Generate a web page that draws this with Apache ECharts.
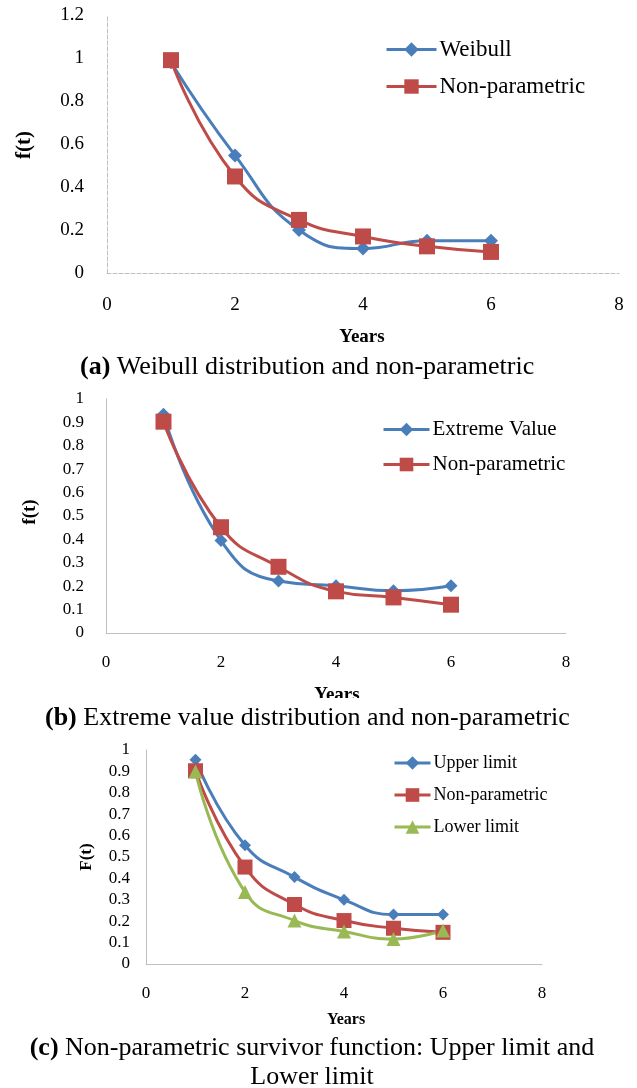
<!DOCTYPE html>
<html><head><meta charset="utf-8">
<script src="https://cdn.jsdelivr.net/npm/echarts@6/dist/echarts.min.js"></script>
<style>html,body{margin:0;padding:0;background:#fff}#c{width:637px;height:1088px}</style>
</head><body><div id="c"></div>
<script>
const years = [1, 2, 3, 4, 5, 6];
const weibullA = [0.98, 0.547, 0.2, 0.114, 0.15, 0.15];
const nonParA = [0.99, 0.449, 0.247, 0.17, 0.124, 0.098];
const extremeB = [0.935, 0.395, 0.222, 0.202, 0.181, 0.202];
const nonParB = [0.903, 0.452, 0.283, 0.178, 0.152, 0.121];
const upperC = [0.955, 0.555, 0.406, 0.3, 0.231, 0.231];
const nonParC = [0.903, 0.453, 0.278, 0.203, 0.167, 0.148];
const lowerC = [0.9, 0.336, 0.203, 0.152, 0.117, 0.156];
const xTicks = [0, 8, 2];
const yTicksA = [0, 1.2, 0.2];
const yTicksBC = [0, 1, 0.1];

const BLUE = '#4A7EBB', RED = '#BE4B48', GREEN = '#98B954';
const FONT = '"Liberation Serif","Times New Roman",serif';
const pts = v => years.map((x, i) => [x, v[i]]);

function xAx(idx, fs, margin, dashed) {
  return {gridIndex: idx, type: 'value', min: xTicks[0], max: xTicks[1], interval: xTicks[2],
    axisLine: {show: true, lineStyle: {color: '#BFBFBF', width: 1, type: dashed ? 'dashed' : 'solid'}},
    axisTick: {show: false}, splitLine: {show: false},
    axisLabel: {color: '#000', fontFamily: FONT, fontSize: fs, margin: margin}};
}
function yAx(idx, t, fs, margin, dashed) {
  return {gridIndex: idx, type: 'value', min: t[0], max: t[1], interval: t[2],
    axisLine: {show: true, lineStyle: {color: '#BFBFBF', width: 1, type: dashed ? 'dashed' : 'solid'}},
    axisTick: {show: false}, splitLine: {show: false},
    axisLabel: {color: '#000', fontFamily: FONT, fontSize: fs, margin: margin}};
}
function ser(name, idx, data, color, symbol, size) {
  return {name: name, type: 'line', xAxisIndex: idx, yAxisIndex: idx, data: pts(data),
    smooth: 0.5, symbol: symbol, symbolSize: size, showSymbol: true,
    lineStyle: {color: color, width: 3}, itemStyle: {color: color}, z: 3};
}
function leg(names, left, top, gap, w, h, fs) {
  return {data: names, orient: 'vertical', left: left, top: top, itemGap: gap, itemWidth: w, itemHeight: h,
    padding: 0, lineStyle: {width: 3},
    textStyle: {fontFamily: FONT, fontSize: fs, color: '#000', padding: [0, 0, 0, -2]}, selectedMode: false};
}
function txt(x, y, s, fs, bold, rot, align) {
  return {type: 'text', x: x, y: y, rotation: rot || 0,
    style: {text: s, fontFamily: FONT, fontSize: fs, fontWeight: bold ? 'bold' : 'normal', fill: '#000',
      align: align || 'center', verticalAlign: 'middle'}};
}
function cap(x, y, lbl, s, fs, align) {
  return {type: 'text', x: x, y: y, z: 20,
    style: {text: '{b|' + lbl + '} ' + s, fontFamily: FONT, fontSize: fs, fill: '#000', align: align, verticalAlign: 'middle',
      rich: {b: {fontFamily: FONT, fontSize: fs, fontWeight: 'bold'}}}};
}

const chart = echarts.init(document.getElementById('c'));
chart.setOption({
  animation: false,
  backgroundColor: '#fff',
  grid: [
    {left: 107, top: 15, width: 512, height: 258},
    {left: 106, top: 399, width: 460, height: 234},
    {left: 146, top: 750, width: 396, height: 214}
  ],
  xAxis: [xAx(0, 19, 23, true), xAx(1, 17, 21, false), xAx(2, 17, 21, false)],
  yAxis: [yAx(0, yTicksA, 19, 23, true), yAx(1, yTicksBC, 17, 22, false), yAx(2, yTicksBC, 17, 16, false)],
  legend: [
    leg(['Weibull', 'Non-parametric'], 385, 38, 14, 50, 18, 23),
    leg(['Extreme Value', 'Non-parametric '], 382, 419, 14, 46, 17, 21),
    leg(['Upper limit', 'Non-parametric  ', 'Lower limit'], 393, 754, 14, 36, 17, 18)
  ],
  series: [
    ser('Weibull', 0, weibullA, BLUE, 'diamond', 14),
    ser('Non-parametric', 0, nonParA, RED, 'rect', 16),
    ser('Extreme Value', 1, extremeB, BLUE, 'diamond', 13),
    ser('Non-parametric ', 1, nonParB, RED, 'rect', 16),
    ser('Upper limit', 2, upperC, BLUE, 'diamond', 12),
    ser('Non-parametric  ', 2, nonParC, RED, 'rect', 15),
    ser('Lower limit', 2, lowerC, GREEN, 'triangle', 14)
  ],
  graphic: [
    txt(25, 145, 'f(t)', 21, true, Math.PI / 2),
    txt(362, 337, 'Years', 19, true),
    cap(80, 367, '(a)', 'Weibull distribution and non-parametric', 26, 'left'),
    txt(30, 512, 'f(t)', 19, true, Math.PI / 2),
    txt(337, 695, 'Years', 19, true),
    {type: 'rect', shape: {x: 280, y: 698, width: 120, height: 7}, style: {fill: '#fff'}, z: 10},
    cap(45, 718, '(b)', 'Extreme value distribution and non-parametric', 26, 'left'),
    txt(87, 857, 'F(t)', 17, true, Math.PI / 2),
    txt(346, 1020, 'Years', 16, true),
    {type: 'rect', shape: {x: 290, y: 1025, width: 120, height: 5}, style: {fill: '#fff'}, z: 10},
    cap(312, 1048, '(c)', 'Non-parametric survivor function: Upper limit and', 26, 'center'),
    txt(312, 1077, 'Lower limit', 26, false)
  ]
});
</script></body></html>
